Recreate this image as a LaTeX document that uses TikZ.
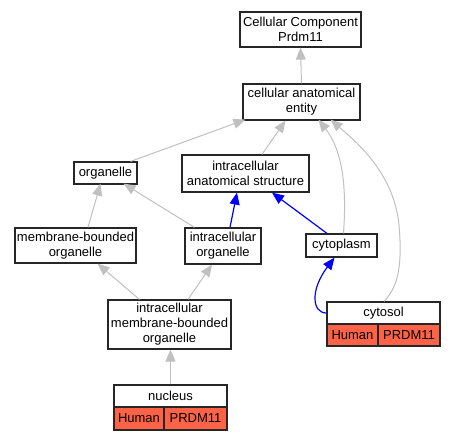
\documentclass[tikz,border=0pt]{standalone}
\usepackage{fontspec}
\setmainfont{Liberation Sans}
\usetikzlibrary{arrows.meta}
\definecolor{edgegray}{HTML}{C0C0C0}
\definecolor{tomatoc}{HTML}{FF6347}
\begin{document}
\begin{tikzpicture}[x=1pt,y=-1pt,
  box/.style={draw=black!85, line width=1.2pt, fill=white, inner sep=0pt, align=center, font=\fontsize{13}{15}\selectfont},
  cell/.style={box, fill=tomatoc},
  isa/.style={draw=edgegray, line width=1pt, -{Triangle[length=12pt,width=10pt]}},
  partof/.style={draw=blue, line width=1.2pt, -{Triangle[length=12pt,width=10pt]}}]
\useasboundingbox (0,0) rectangle (456,440);
\node[box, minimum width=121pt, minimum height=35pt] (ccp) at (300.5,29.5) {Cellular Component\\Prdm11};
\node[box, minimum width=117pt, minimum height=36pt] (cae) at (301.5,102) {cellular anatomical\\entity};
\node[box, minimum width=63pt, minimum height=22pt] (org) at (105.5,173) {organelle};
\node[box, minimum width=127pt, minimum height=37pt] (ias) at (245.5,173.5) {intracellular\\anatomical structure};
\node[box, minimum width=121pt, minimum height=35pt] (mbo) at (75.5,245.5) {membrane-bounded\\organelle};
\node[box, minimum width=76pt, minimum height=36pt] (io) at (223,246) {intracellular\\organelle};
\node[box, minimum width=71pt, minimum height=23pt] (cyto) at (341.5,245.5) {cytoplasm};
\node[box, minimum width=123pt, minimum height=49pt] (imbo) at (169.5,324.5) {intracellular\\membrane-bounded\\organelle};
% nucleus
\node[box, minimum width=113pt, minimum height=22pt] (nuc) at (170.5,396) {nucleus};
\node[cell, minimum width=50pt, minimum height=23pt] (nuch) at (139,418.5) {Human};
\node[cell, minimum width=63pt, minimum height=23pt] (nucg) at (195.5,418.5) {PRDM11};
% cytosol
\node[box, minimum width=113pt, minimum height=22pt] (cyt) at (383.5,313) {cytosol};
\node[cell, minimum width=51pt, minimum height=22pt] (cyth) at (352.5,335) {Human};
\node[cell, minimum width=62pt, minimum height=22pt] (cytg) at (409,335) {PRDM11};
% edges
\draw[isa] (cae.north) -- (ccp.south);
\draw[isa] ([xshift=-7pt]org.north east) -- ([xshift=3pt,yshift=1pt]cae.south west);
\draw[isa] ([xshift=16.5pt]ias.north) -- ([xshift=-16pt]cae.south);
\draw[isa] ([xshift=2pt]cyto.north) .. controls (347,185) and (342,150) .. ([xshift=17pt,yshift=1pt]cae.south);
\draw[isa] ([xshift=0.5pt]cyt.north) .. controls (400,285) and (402,260) .. (399,225) .. controls (394,175) and (360,145) .. ([xshift=29pt,yshift=1pt]cae.south);
\draw[isa] ([xshift=12.5pt]mbo.north) -- ([xshift=-5pt,yshift=1pt]org.south);
\draw[isa] ([xshift=10pt]io.north west) -- ([xshift=-14pt,yshift=1pt]org.south east);
\draw[partof] ([xshift=7pt]io.north) -- ([xshift=-8.5pt]ias.south);
\draw[partof] ([xshift=-14.5pt]cyto.north) -- ([xshift=26.5pt]ias.south);
\draw[partof] (cyt.west) .. controls (312,313) and (310,290) .. ([xshift=-7pt]cyto.south);
\draw[isa] ([xshift=32pt]imbo.north west) -- ([xshift=22pt]mbo.south);
\draw[isa] ([xshift=18.5pt]imbo.north) -- ([xshift=-11pt]io.south);
\draw[isa] (nuc.north) -- ([xshift=1pt]imbo.south);
\end{tikzpicture}
\end{document}
